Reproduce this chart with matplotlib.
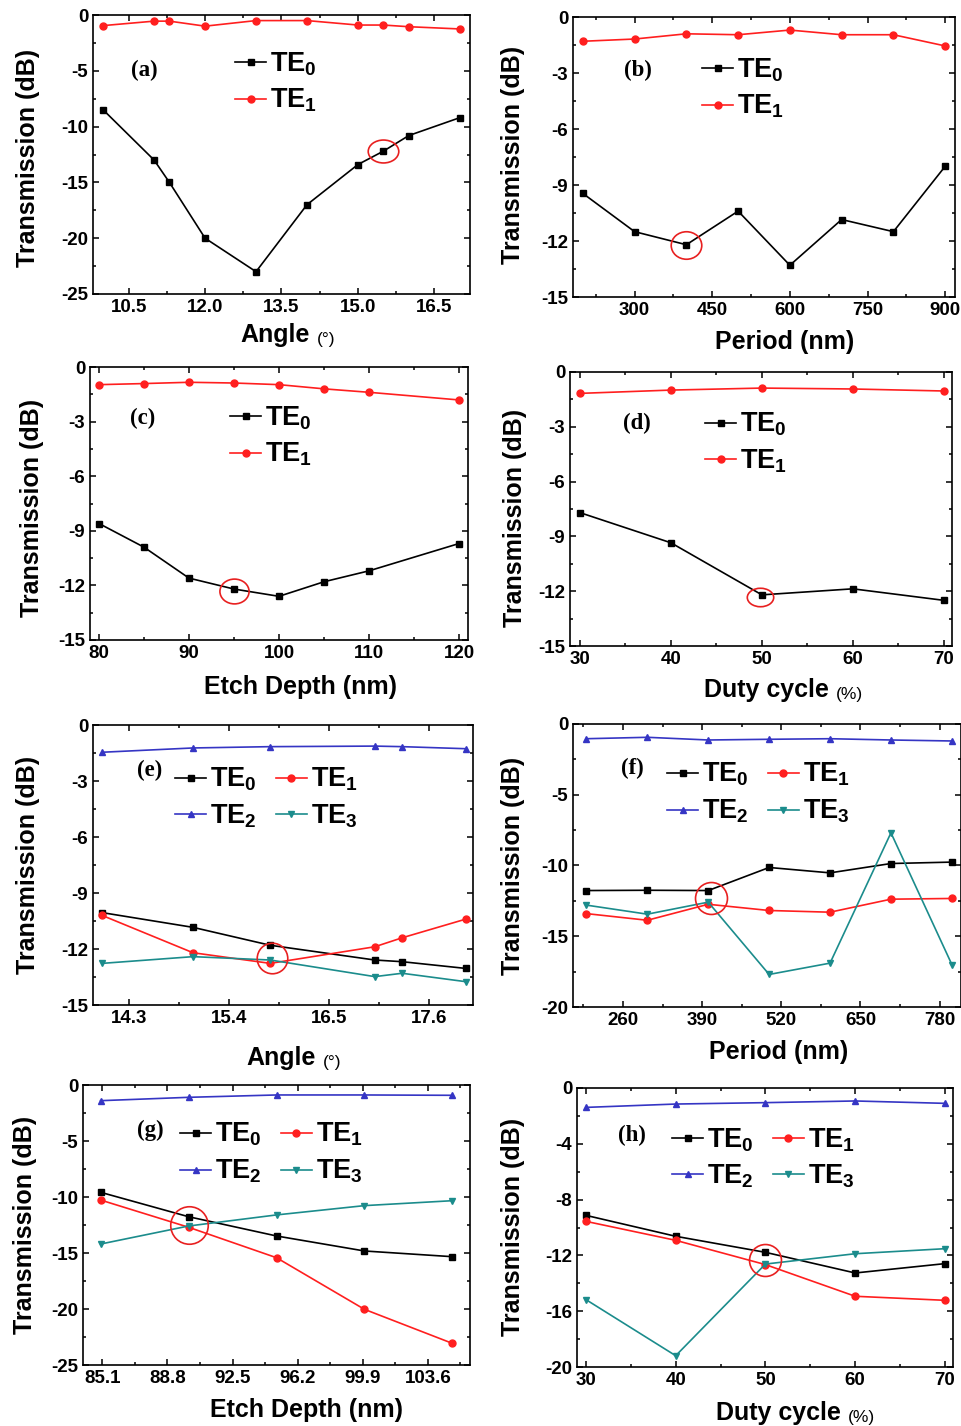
import numpy as np
import matplotlib.pyplot as plt
from matplotlib.markers import MarkerStyle
from matplotlib.transforms import Affine2D
from matplotlib.ticker import MultipleLocator, FixedLocator, FormatStrFormatter

plt.rcParams['font.family'] = ['Liberation Sans', 'DejaVu Sans']
plt.rcParams['font.weight'] = 'bold'
plt.rcParams['axes.unicode_minus'] = False
plt.rcParams['mathtext.fontset'] = 'custom'
plt.rcParams['mathtext.rm'] = 'Liberation Sans:bold'
plt.rcParams['mathtext.it'] = 'Liberation Sans:bold'
plt.rcParams['mathtext.bf'] = 'Liberation Sans:bold'

# ---- data ----
angle_a = [10.0, 11.0, 11.3, 12.0, 13.0, 14.0, 15.0, 15.5, 16.0, 17.0]
te0_a = [-8.5, -13.0, -15.0, -20.0, -23.0, -17.0, -13.4, -12.2, -10.8, -9.2]
te1_a = [-0.95, -0.55, -0.55, -1.0, -0.5, -0.5, -0.9, -0.9, -1.05, -1.25]

period_b = [200, 300, 400, 500, 600, 700, 800, 900]
te0_b = [-9.45, -11.5, -12.2, -10.4, -13.3, -10.85, -11.5, -8.0]
te1_b = [-1.3, -1.18, -0.9, -0.95, -0.7, -0.95, -0.95, -1.55]

depth_c = [80, 85, 90, 95, 100, 105, 110, 120]
te0_c = [-8.6, -9.9, -11.6, -12.2, -12.6, -11.8, -11.2, -9.7]
te1_c = [-0.97, -0.91, -0.84, -0.88, -0.97, -1.2, -1.39, -1.81]

duty_d = [30, 40, 50, 60, 70]
te0_d = [-7.7, -9.35, -12.2, -11.87, -12.5]
te1_d = [-1.17, -0.99, -0.88, -0.93, -1.04]

angle_e = [14.0, 15.0, 15.85, 17.0, 17.3, 18.0]
te0_e = [-10.05, -10.84, -11.8, -12.59, -12.68, -13.04]
te1_e = [-10.2, -12.2, -12.77, -11.88, -11.4, -10.4]
te2_e = [-1.46, -1.23, -1.16, -1.13, -1.16, -1.27]
te3_e = [-12.77, -12.41, -12.59, -13.48, -13.3, -13.75]

period_f = [200, 300, 400, 500, 600, 700, 800]
te0_f = [-11.77, -11.75, -11.77, -10.14, -10.52, -9.86, -9.76]
te1_f = [-13.4, -13.87, -12.74, -13.18, -13.3, -12.38, -12.33]
te2_f = [-1.04, -0.94, -1.13, -1.08, -1.04, -1.13, -1.2]
te3_f = [-12.8, -13.44, -12.59, -17.7, -16.9, -7.69, -17.0]

depth_g = [85, 90, 95, 100, 105]
te0_g = [-9.58, -11.76, -13.48, -14.82, -15.33]
te1_g = [-10.27, -12.7, -15.42, -20.03, -23.07]
te2_g = [-1.4, -1.1, -0.89, -0.89, -0.92]
te3_g = [-14.2, -12.59, -11.6, -10.77, -10.33]

duty_h = [30, 40, 50, 60, 70]
te0_h = [-9.13, -10.63, -11.78, -13.26, -12.59]
te1_h = [-9.56, -10.92, -12.66, -14.93, -15.22]
te2_h = [-1.39, -1.15, -1.05, -0.93, -1.1]
te3_h = [-15.17, -19.19, -12.62, -11.88, -11.52]

# highlighted (circled) points
circle_x = [15.5, 400, 95, 49.8, 15.87, 404, 90, 50]
circle_y = [-12.2, -12.2, -12.3, -12.3, -12.46, -12.3, -12.5, -12.35]

mode_names = ['TE$_0$', 'TE$_1$', 'TE$_2$', 'TE$_3$']
colors = ['#000000', '#ff1f1f', '#3535c4', '#1b8c8c']
markers = ['s', 'o', '^', 'v']

W, H = 962, 1426
fig = plt.figure(figsize=(W / 100, H / 100), dpi=100)


def fx(px):
    return px / W


def fy(py):
    return 1 - py / H


def make_axes(l, r, t, b):
    ax = fig.add_axes([fx(l), fy(b), (r - l) / W, (b - t) / H])
    ax.tick_params(which='both', direction='in', top=True, right=True,
                   labelsize=13.5, width=1.1)
    ax.tick_params(which='major', length=4.5)
    ax.tick_params(which='minor', length=2.5)
    for s in ax.spines.values():
        s.set_linewidth(1.2)
    return ax


def draw(ax, x, ys, xlim, ylim, xticks, xminor, ystep, xfmt='%d'):
    lines = []
    for i, y in enumerate(ys):
        ln, = ax.plot(x, y, color=colors[i], marker=markers[i], markersize=5,
                      linewidth=1.2, label=mode_names[i])
        lines.append(ln)
    ax.set_xlim(xlim)
    ax.set_ylim(ylim)
    ax.xaxis.set_major_locator(FixedLocator(xticks))
    ax.xaxis.set_minor_locator(FixedLocator(xminor))
    ax.xaxis.set_major_formatter(FormatStrFormatter(xfmt))
    ax.yaxis.set_major_locator(MultipleLocator(ystep))
    ax.yaxis.set_minor_locator(MultipleLocator(ystep / 2))
    for lab in ax.get_xticklabels() + ax.get_yticklabels():
        lab.set_fontweight('bold')
    return lines


def circle(ax, k, size, ratio):
    ms = MarkerStyle('o', fillstyle='none', transform=Affine2D().scale(1, ratio))
    ax.plot([circle_x[k]], [circle_y[k]], linestyle='none', marker=ms,
            markersize=size, markeredgecolor='#e82020', markeredgewidth=1.2)


def legend(ax, lines, px, py, ncol=1):
    if ncol == 2:
        lines = [lines[0], lines[2], lines[1], lines[3]]
    ax.legend(handles=lines, loc='upper left', bbox_to_anchor=(fx(px), fy(py)),
              bbox_transform=fig.transFigure, frameon=False, fontsize=19.5,
              borderpad=0, borderaxespad=0, handlelength=1.15, handletextpad=0.15,
              labelspacing=0.35, columnspacing=0.7, ncol=ncol)


def labels(tag, tx, ty, xmain, xcx, xcy, ylx, yly, unit=None):
    fig.text(fx(tx), fy(ty), tag, family='Liberation Serif', fontsize=16.5,
             fontweight='bold', ha='center', va='center')
    t = fig.text(fx(xcx), fy(xcy), xmain, fontsize=18, ha='center', va='center')
    if unit:
        fig.axes[-1].annotate(unit, xy=(1, 0), xycoords=t, xytext=(5, 0),
                              textcoords='offset points', fontsize=12.5,
                              fontweight='normal', ha='left', va='bottom',
                              annotation_clip=False)
    fig.text(fx(ylx), fy(yly), 'Transmission (dB)', fontsize=18, rotation=90,
             ha='center', va='center')


# (a)
ax = make_axes(93, 470, 15, 294)
ln = draw(ax, angle_a, [te0_a, te1_a], (9.8, 17.2), (-25, 0),
          [10.5, 12.0, 13.5, 15.0, 16.5], [11.25, 12.75, 14.25, 15.75], 5, '%.1f')
circle(ax, 0, 22, 0.75)
legend(ax, ln, 235, 50)
labels('(a)', 144, 70, 'Angle', 275, 335, 28, 158, '(°)')

# (b)
ax = make_axes(573, 955, 17, 297)
ln = draw(ax, period_b, [te0_b, te1_b], (181, 919), (-15, 0),
          [300, 450, 600, 750, 900], [225, 375, 525, 675, 825], 3)
circle(ax, 1, 22, 0.9)
legend(ax, ln, 702, 56)
labels('(b)', 638, 70, 'Period (nm)', 785, 342, 513, 155)

# (c)
ax = make_axes(90, 468, 367, 640)
ln = draw(ax, depth_c, [te0_c, te1_c], (79, 121), (-15, 0),
          [80, 90, 100, 110, 120], [85, 95, 105, 115], 3)
circle(ax, 2, 21, 0.85)
legend(ax, ln, 230, 404)
labels('(c)', 143, 418, 'Etch Depth (nm)', 300, 687, 32, 508)

# (d)
ax = make_axes(570, 952, 372, 646)
ln = draw(ax, duty_d, [te0_d, te1_d], (28.9, 70.9), (-15, 0),
          [30, 40, 50, 60, 70], [35, 45, 55, 65], 3)
circle(ax, 3, 19, 0.7)
legend(ax, ln, 705, 411)
labels('(d)', 637, 423, 'Duty cycle', 766, 690, 515, 518, '(%)')

# (e)
ax = make_axes(93, 473, 725, 1005)
ln = draw(ax, angle_e, [te0_e, te1_e, te2_e, te3_e], (13.9, 18.08), (-15, 0),
          [14.3, 15.4, 16.5, 17.6], [14.85, 15.95, 17.05], 3, '%.1f')
circle(ax, 4, 22, 1.0)
legend(ax, ln, 175, 766, ncol=2)
labels('(e)', 150, 770, 'Angle', 281, 1058, 28, 865, '(°)')

# (f)
ax = make_axes(573, 961, 724, 1007)
ln = draw(ax, period_f, [te0_f, te1_f, te2_f, te3_f], (178, 815), (-20, 0),
          [260, 390, 520, 650, 780], [195, 325, 455, 585, 715], 5)
circle(ax, 5, 23, 1.0)
legend(ax, ln, 667, 761, ncol=2)
labels('(f)', 632, 768, 'Period (nm)', 779, 1052, 513, 866)

# (g)
ax = make_axes(83, 470, 1085, 1365)
ln = draw(ax, depth_g, [te0_g, te1_g, te2_g, te3_g], (84, 106), (-25, 0),
          [85.1, 88.8, 92.5, 96.2, 99.9, 103.6],
          [86.95, 90.65, 94.35, 98.05, 101.75, 105.45], 5, '%.1f')
circle(ax, 6, 27, 1.0)
legend(ax, ln, 180, 1121, ncol=2)
labels('(g)', 150, 1130, 'Etch Depth (nm)', 306, 1410, 25, 1225)

# (h)
ax = make_axes(577, 953, 1088, 1367)
ln = draw(ax, duty_h, [te0_h, te1_h, te2_h, te3_h], (29, 70.9), (-20, 0),
          [30, 40, 50, 60, 70], [35, 45, 55, 65], 4)
circle(ax, 7, 23, 1.0)
legend(ax, ln, 672, 1126, ncol=2)
labels('(h)', 632, 1135, 'Duty cycle', 778, 1413, 513, 1227, '(%)')

plt.savefig('out.png', dpi=100)
